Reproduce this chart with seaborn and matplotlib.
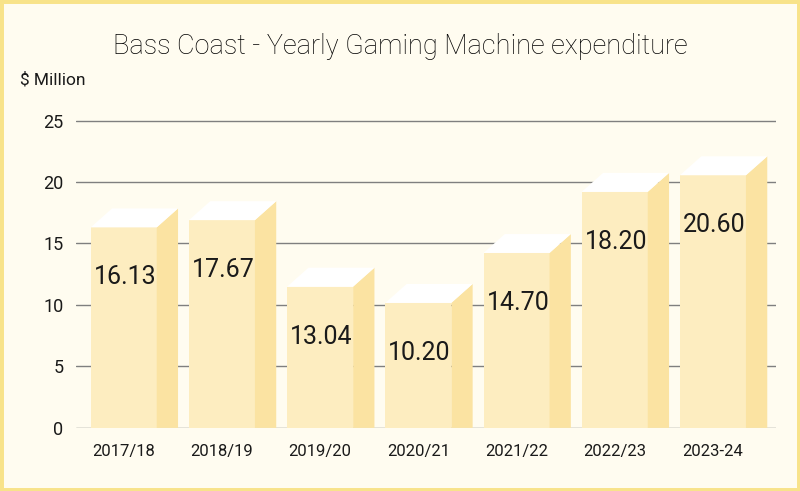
import pandas as pd
import matplotlib.pyplot as plt
from matplotlib.patches import Polygon, Rectangle
import seaborn as sns

# data
years = ["2017/18", "2018/19", "2019/20", "2020/21", "2021/22", "2022/23", "2023-24"]
value_labels = ["16.13", "17.67", "13.04", "10.20", "14.70", "18.20", "20.60"]
# heights of the bars as they are drawn ($ million)
bar_heights = [16.31, 16.90, 11.49, 10.17, 14.23, 19.20, 20.55]

df = pd.DataFrame({"year": years, "value": bar_heights})

bg = "#FFFCF0"
front_col = "#FDEDC0"
side_col = "#FBE3A2"
top_col = "#FFFFFF"
border_col = "#F8E38A"
text_col = "#1a1a1a"

sns.set_theme(style="white")
plt.rcParams["font.family"] = ["Roboto", "DejaVu Sans"]

fig = plt.figure(figsize=(8, 4.91), dpi=100, facecolor=bg)
ax = fig.add_axes([0.095, 0.1275, 0.875, 0.628])
ax.set_facecolor(bg)

sns.barplot(data=df, x="year", y="value", color=front_col, saturation=1,
            width=0.672, linewidth=0, ax=ax, zorder=3)

# fake 3D: side and top faces
dx, dy = 0.217, 1.54
for p, lab in zip(ax.patches, value_labels):
    x0, w, h = p.get_x(), p.get_width(), p.get_height()
    ax.add_patch(Polygon([(x0 + w, 0), (x0 + w + dx, 0), (x0 + w + dx, h + dy), (x0 + w, h)],
                         closed=True, fc=side_col, ec="none", zorder=3, clip_on=False))
    ax.add_patch(Polygon([(x0, h), (x0 + w, h), (x0 + w + dx, h + dy), (x0 + dx, h + dy)],
                         closed=True, fc=top_col, ec="none", zorder=3, clip_on=False))
    ax.annotate(lab, (x0, h), xytext=(3, -50), textcoords="offset pixels",
                ha="left", va="center", fontsize=18, color=text_col, zorder=5)

ax.set_xlim(-0.486, 6.642)
ax.set_ylim(-0.04, 25.04)
ax.set_yticks([0, 5, 10, 15, 20, 25])
ax.yaxis.grid(True, color="#7f7f7f", linewidth=1)
ax.set_axisbelow(True)
sns.despine(ax=ax, left=True, bottom=True)
ax.tick_params(axis="y", length=0, pad=9, labelsize=13, labelcolor=text_col)
ax.tick_params(axis="x", length=0, pad=11, labelsize=12, labelcolor=text_col)
ax.set_xlabel("")
ax.set_ylabel("")

fig.text(0.5, 0.906, "Bass Coast - Yearly Gaming Machine expenditure",
         ha="center", va="center", fontsize=19.5, fontweight="light", color="#000000")
fig.text(0.025, 0.837, "$ Million", ha="left", va="center", fontsize=12.5, color=text_col)

fig.patches.append(Rectangle((0, 0), 1, 1, transform=fig.transFigure, fill=False,
                             ec=border_col, lw=5))

fig.savefig("out.png", dpi=100, facecolor=bg)
